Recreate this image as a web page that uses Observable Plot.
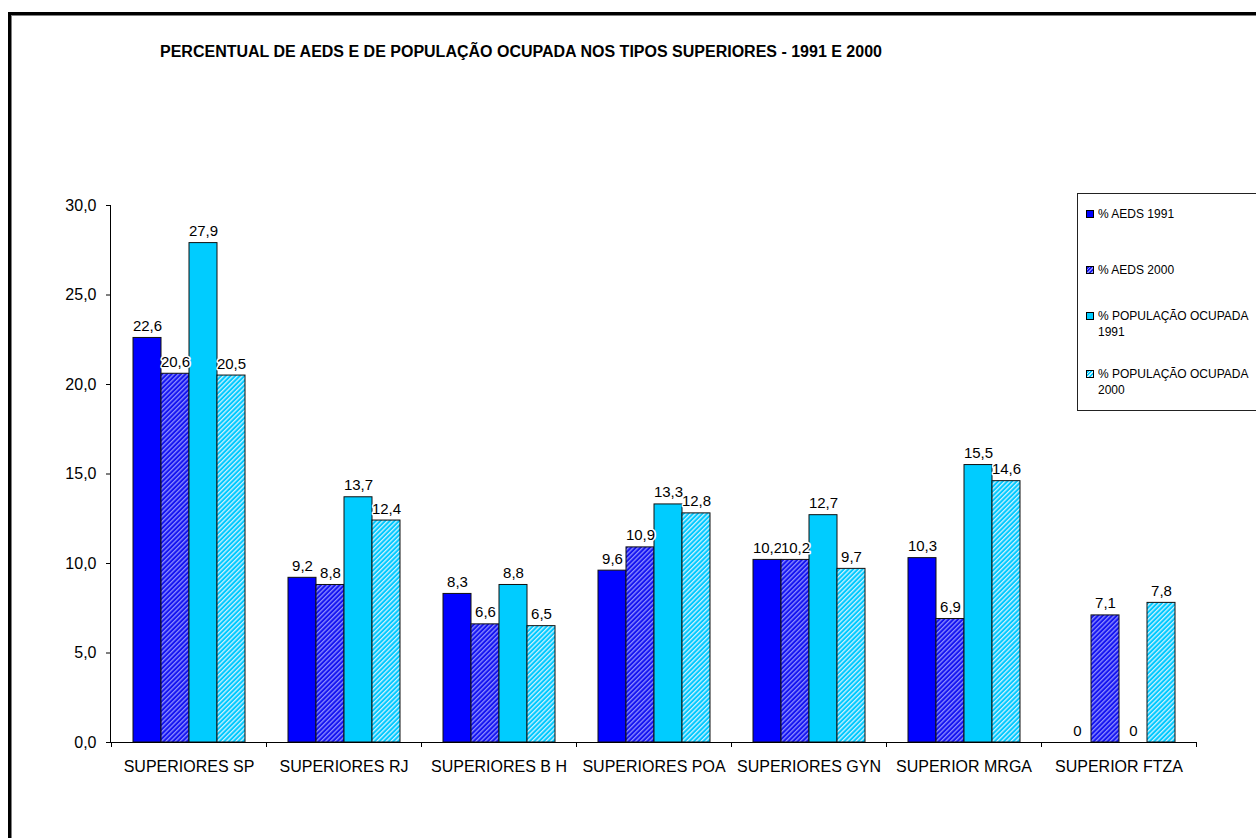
<!DOCTYPE html>
<html>
<head>
<meta charset="utf-8">
<script src="https://cdn.jsdelivr.net/npm/d3@7"></script>
<script src="https://cdn.jsdelivr.net/npm/@observablehq/plot@0.6"></script>
<style>
  html, body { margin: 0; padding: 0; background: #fff; }
  #page { position: relative; width: 1256px; height: 838px; overflow: hidden; font-family: "Liberation Sans", Arial, sans-serif; color: #000; }
  #frame { position: absolute; left: 8px; top: 12px; width: 1300px; height: 900px; border-left: 3px solid #000; border-top: 3px solid #000; box-shadow: inset 1px 1px 0 #808080; }
  #title { position: absolute; left: 160px; top: 44px; font-size: 16px; font-weight: bold; line-height: 16px; white-space: nowrap; }
  #chart { position: absolute; left: 0; top: 0; }
  #legend { position: absolute; left: 1077px; top: 193px; width: 220px; height: 216px; border: 1px solid #222; background: #fff; }
  .item { position: absolute; left: 9px; font-size: 12px; line-height: 16px; white-space: nowrap; }
  .swatch { position: absolute; left: -1px; top: 4px; width: 6px; height: 6px; border: 1px solid #000; }
  .item span.txt { display: block; padding-left: 11px; }
</style>
</head>
<body>
<div id="page">
  <div id="frame"></div>
  <div id="chart"></div>
  <div id="title"></div>
  <div id="legend"></div>
</div>
<script>
// Categories (groups along the bottom axis)
const categories = [
  "SUPERIORES SP", "SUPERIORES RJ", "SUPERIORES B H", "SUPERIORES POA",
  "SUPERIORES GYN", "SUPERIOR MRGA", "SUPERIOR FTZA"
];

// Series names, in the order the bars appear within each group
const seriesNames = [
  "% AEDS 1991", "% AEDS 2000", "% POPULAÇÃO OCUPADA 1991", "% POPULAÇÃO OCUPADA 2000"
];

// Values per series (percent)
const aeds1991 = [22.6, 9.2, 8.3, 9.6, 10.2, 10.3, 0];
const aeds2000 = [20.6, 8.8, 6.6, 10.9, 10.2, 6.9, 7.1];
const pop1991  = [27.9, 13.7, 8.8, 13.3, 12.7, 15.5, 0];
const pop2000  = [20.5, 12.4, 6.5, 12.8, 9.7, 14.6, 7.8];

// Y axis ticks
const yTicks = [0, 5, 10, 15, 20, 25, 30];

const titleText = "PERCENTUAL DE AEDS E DE POPULAÇÃO OCUPADA NOS TIPOS SUPERIORES - 1991 E 2000";

// Fills: solid for 1991, diagonal hatch for 2000
const seriesFills = ["#0000ff", "url(#hatch-aeds)", "#00ccff", "url(#hatch-pop)"];
const legendFills = [
  "#0000ff",
  "repeating-linear-gradient(135deg, #1414f0 0 1.6px, #8c8cff 1.6px 2.6px)",
  "#00ccff",
  "repeating-linear-gradient(135deg, #00c8ff 0 1.6px, #c8f2ff 1.6px 2.6px)"
];

const allSeries = [aeds1991, aeds2000, pop1991, pop2000];
const rows = [];
categories.forEach((cat, i) => {
  seriesNames.forEach((s, j) => {
    rows.push({cat, series: s, value: allSeries[j][i]});
  });
});

const fmt = v => v === 0 ? "0" : v.toFixed(1).replace(".", ",");

const plot = Plot.plot({
  width: 1256,
  height: 838,
  marginLeft: 110,
  marginRight: 60,
  marginTop: 205,
  marginBottom: 96,
  style: {fontFamily: "'Liberation Sans', Arial, sans-serif", fontSize: "16px", color: "#000", background: "transparent", overflow: "visible"},
  fx: {domain: categories, padding: 0, label: null, tickSize: 0, tickPadding: 18, axis: "bottom"},
  x: {domain: seriesNames, paddingInner: 0, paddingOuter: 0.72, axis: null},
  y: {domain: [0, 30], ticks: yTicks, tickFormat: d => d.toFixed(1).replace(".", ","), tickSize: 5, tickPadding: 10, label: null},
  color: {domain: seriesNames, range: seriesFills},
  marks: [
    Plot.barY(rows, {fx: "cat", x: "series", y: "value", fill: "series", stroke: "#111", strokeWidth: 1}),
    Plot.ruleY([0], {stroke: "#000"}),
    Plot.text(rows, {
      fx: "cat", x: "series", y: "value", text: d => fmt(d.value),
      lineAnchor: "bottom", dy: -7, fontSize: 15, fill: "#000",
      stroke: "#fff", strokeWidth: 3
    })
  ]
});

const svg = d3.select(plot);

// Hatch patterns for the 2000 series
const defs = svg.insert("defs", ":first-child");
function hatch(id, base, stripe) {
  const p = defs.append("pattern")
    .attr("id", id)
    .attr("patternUnits", "userSpaceOnUse")
    .attr("width", 3.3).attr("height", 3.3)
    .attr("patternTransform", "rotate(45)");
  p.append("rect").attr("width", 3.3).attr("height", 3.3).attr("fill", base);
  p.append("rect").attr("width", 1.3).attr("height", 3.3).attr("fill", stripe);
}
hatch("hatch-aeds", "#1414f0", "#8c8cff");
hatch("hatch-pop", "#00c8ff", "#c8f2ff");

// Axis line on the left and group boundary ticks along the baseline
const fx = plot.scale("fx");
const y = plot.scale("y");
const g = svg.append("g").attr("stroke", "#000").attr("stroke-width", 1);
const x0 = fx.range[0];
g.append("line").attr("x1", x0 + 0.5).attr("x2", x0 + 0.5).attr("y1", y.apply(30)).attr("y2", y.apply(0));
const edges = categories.map(c => fx.apply(c)).concat([fx.apply(categories[categories.length - 1]) + fx.bandwidth]);
edges.forEach(ex => {
  g.append("line").attr("x1", ex + 0.5).attr("x2", ex + 0.5).attr("y1", y.apply(0)).attr("y2", y.apply(0) + 5);
});

document.getElementById("chart").appendChild(plot);
document.getElementById("title").textContent = titleText;

// Legend entries (first-line centre positions inside the box)
const legendTops = [20, 76, 122, 180];
const legendLines = [["% AEDS 1991"], ["% AEDS 2000"], ["% POPULAÇÃO OCUPADA", "1991"], ["% POPULAÇÃO OCUPADA", "2000"]];
const legend = d3.select("#legend");
seriesNames.forEach((s, i) => {
  const item = legend.append("div").attr("class", "item").style("top", (legendTops[i] - 8) + "px");
  item.append("div").attr("class", "swatch").style("background", legendFills[i]);
  item.append("span").attr("class", "txt").html(legendLines[i].join("<br>"));
});
</script>
</body>
</html>
